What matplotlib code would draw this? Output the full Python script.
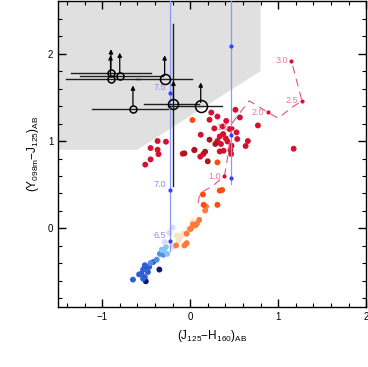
import numpy as np
import matplotlib.pyplot as plt
from matplotlib.patches import Polygon

plt.rcParams['font.family'] = ['Liberation Sans', 'DejaVu Sans']
plt.rcParams['mathtext.fontset'] = 'custom'
plt.rcParams['mathtext.rm'] = 'Liberation Sans'
plt.rcParams['mathtext.default'] = 'regular'

# --- data ---
# upper-left candidates: x, y, x error low/high, marker size (px)
cand_x = [-0.90, -0.905, -0.80, -0.29, -0.65, -0.19, 0.12]
cand_y = [1.78, 1.71, 1.74, 1.71, 1.365, 1.42, 1.40]
cand_xlo = [-1.35, -1.41, -1.25, -0.61, -1.12, -0.52, -0.25]
cand_xhi = [-0.44, -0.57, -0.31, 0.02, -0.25, 0.10, 0.36]
cand_size = [7, 7, 7, 10, 7, 10, 12]

# vertical model tracks
track1_x = -0.23
track1_y = [1.55, 0.44, -0.145]
track1_lab = ['7.5', '7.0', '6.5']
track2_x = 0.466
track2_y = [2.087, 1.064, 0.58]

# dashed age track
age_x = [0.09, 0.11, 0.26, 0.39, 0.44, 0.48, 0.67, 0.88, 1.00, 1.15, 1.27, 1.15]
age_y = [0.29, 0.40, 0.49, 0.60, 0.90, 1.21, 1.46, 1.33, 1.26, 1.38, 1.46, 1.92]
age_lab_x = [0.39, 0.48, 0.88, 1.27, 1.15]
age_lab_y = [0.60, 1.15, 1.33, 1.46, 1.92]
age_lab = ['1.0', '1.5', '2.0', '2.5', '3.0']

# coloured model points, grouped by colour
pts = {
    '#0b1c70': ([-0.504, -0.515, -0.35], [-0.604, -0.44, -0.47]),
    '#2f5fd0': ([-0.466, -0.515, -0.535, -0.48, -0.553, -0.58, -0.515, -0.65, -0.535, -0.42],
                [-0.44, -0.42, -0.47, -0.498, -0.517, -0.525, -0.555, -0.585, -0.574, -0.384]),
    '#4f8ee6': ([-0.45, -0.38, -0.344, -0.305],
                [-0.395, -0.357, -0.29, -0.30]),
    '#86c6f2': ([-0.324, -0.275, -0.26, -0.30],
                [-0.243, -0.213, -0.29, -0.25]),
    '#dcdcf2': ([-0.286, -0.237, -0.19, -0.20],
                [-0.156, -0.05, -0.21, 0.01]),
    '#fde2c4': ([-0.115, -0.15, -0.13, -0.077, -0.02, 0.03],
                [-0.099, -0.08, -0.137, -0.06, -0.02, 0.08]),
    '#ff7a3c': ([-0.04, 0.008, 0.057, 0.077, -0.065, -0.16, -0.04, 0.103, 0.031, 0.0, 0.17, 0.18],
                [-0.06, -0.004, 0.034, 0.054, -0.194, -0.194, -0.168, 0.099, 0.046, -0.003, 0.205, 0.25]),
    '#ff4a10': ([0.145, 0.153, 0.31, 0.336, 0.363, 0.026, 0.31],
                [0.388, 0.27, 0.27, 0.433, 0.44, 1.24, 0.756]),
    '#d4112e': ([0.515, 0.24, 0.31, 0.565, 0.22, 0.41, 0.77, 0.37, 0.275, 0.447, 0.527, 0.12,
                 0.375, 0.405, 0.336, 0.535, 0.656, 0.31, 0.35, 0.424, 0.47, 0.63, 1.176,
                 0.336, 0.38, 0.458, 0.15, 0.115, 0.466, -0.275, -0.37, -0.45, -0.37, -0.36,
                 -0.45, -0.51, -0.085, 0.046],
                [1.357, 1.326, 1.28, 1.27, 1.243, 1.23, 1.178, 1.167, 1.144, 1.137, 1.099, 1.072,
                 1.08, 1.03, 1.052, 1.023, 1.0, 1.0, 0.966, 0.995, 0.946, 0.943, 0.912,
                 0.881, 0.889, 0.897, 0.852, 0.821, 0.852, 0.992, 1.0, 0.92, 0.90, 0.85,
                 0.79, 0.73, 0.855, 0.897]),
    '#a8171c': ([0.22, 0.286, 0.05, 0.17, -0.065, 0.2],
                [1.015, 0.966, 0.897, 0.878, 0.859, 0.768]),
}

# grey excluded region
grey_x = [-1.5, -0.6, 0.8, 0.8, -1.5]
grey_y = [0.9, 0.9, 1.8, 2.6, 2.6]

fig = plt.figure(figsize=(3.68, 3.67), dpi=100)
ax = fig.add_axes([0.158, 0.163, 0.837, 0.834])

ax.add_patch(Polygon(np.column_stack([grey_x, grey_y]), closed=True,
                     facecolor='#e0e0e0', edgecolor='none', zorder=0))

for c, (xs, ys) in pts.items():
    ax.scatter(xs, ys, s=18, color=c, edgecolors='none', zorder=2)

# blue model tracks
blue = '#8a98ff'
ax.plot([track1_x, track1_x], [2.6, -0.26], color=blue, lw=0.9, zorder=3)
ax.plot([track1_x] * 3, track1_y, 'o', color='#3340ff', ms=2, zorder=4)
for y, lab in zip(track1_y, track1_lab):
    ax.text(track1_x - 0.04, y + 0.01, lab, color='#8c8cf0', fontsize=6.5,
            ha='right', va='bottom')
ax.plot([track2_x, track2_x], [2.6, 0.51], color=blue, lw=0.9, zorder=3)
ax.plot([track2_x] * 3, track2_y, 'o', color='#3340ff', ms=2, zorder=4)

# dashed age track
pink = '#e8507a'
ax.plot(age_x, age_y, color=pink, lw=0.8, ls=(0, (7, 5)), zorder=3)
ax.plot(age_lab_x, age_lab_y, 'o', color='#d4112e', ms=2, zorder=4)
for x, y, lab in zip(age_lab_x, age_lab_y, age_lab):
    ax.text(x - 0.04, y, lab, color='#f07a96', fontsize=6.5, ha='right', va='center',
            zorder=4)

# candidates with error bars and lower-limit arrows
for x, y, lo, hi, s in zip(cand_x, cand_y, cand_xlo, cand_xhi, cand_size):
    ax.plot([lo, hi], [y, y], color='#202020', lw=1.0, zorder=5)
    ax.plot(x, y, 'o', mfc='none', mec='black', ms=s * 0.72, mew=1.1, zorder=6)
    ax.annotate('', xy=(x, y + 0.27), xytext=(x, y + 0.04),
                arrowprops=dict(arrowstyle='-|>', color='black', lw=0.9,
                                mutation_scale=6, shrinkA=0, shrinkB=0), zorder=6)
ax.plot([-0.19, -0.19], [0.49, 2.34], color='#202020', lw=1.0, zorder=5)

ax.set_xlim(-1.5, 2)
ax.set_ylim(-0.9, 2.6)
ax.set_xticks([-1, 0, 1, 2])
ax.set_yticks([0, 1, 2])
ax.set_xticks(np.arange(-1.4, 2.0, 0.2), minor=True)
ax.set_yticks(np.arange(-0.8, 2.6, 0.2), minor=True)
ax.tick_params(which='both', direction='in', top=True, right=True, labelsize=7)
ax.tick_params(which='major', length=6, width=1)
ax.tick_params(which='minor', length=3, width=0.8)
for sp in ax.spines.values():
    sp.set_linewidth(1.0)

ax.set_xlabel(r'(J$_{125}$$-$H$_{160}$)$_{AB}$', fontsize=8.5, labelpad=4)
ax.set_ylabel(r'(Y$_{098m}$$-$J$_{125}$)$_{AB}$', fontsize=8.5, labelpad=5)

fig.savefig('out.png', dpi=100)
